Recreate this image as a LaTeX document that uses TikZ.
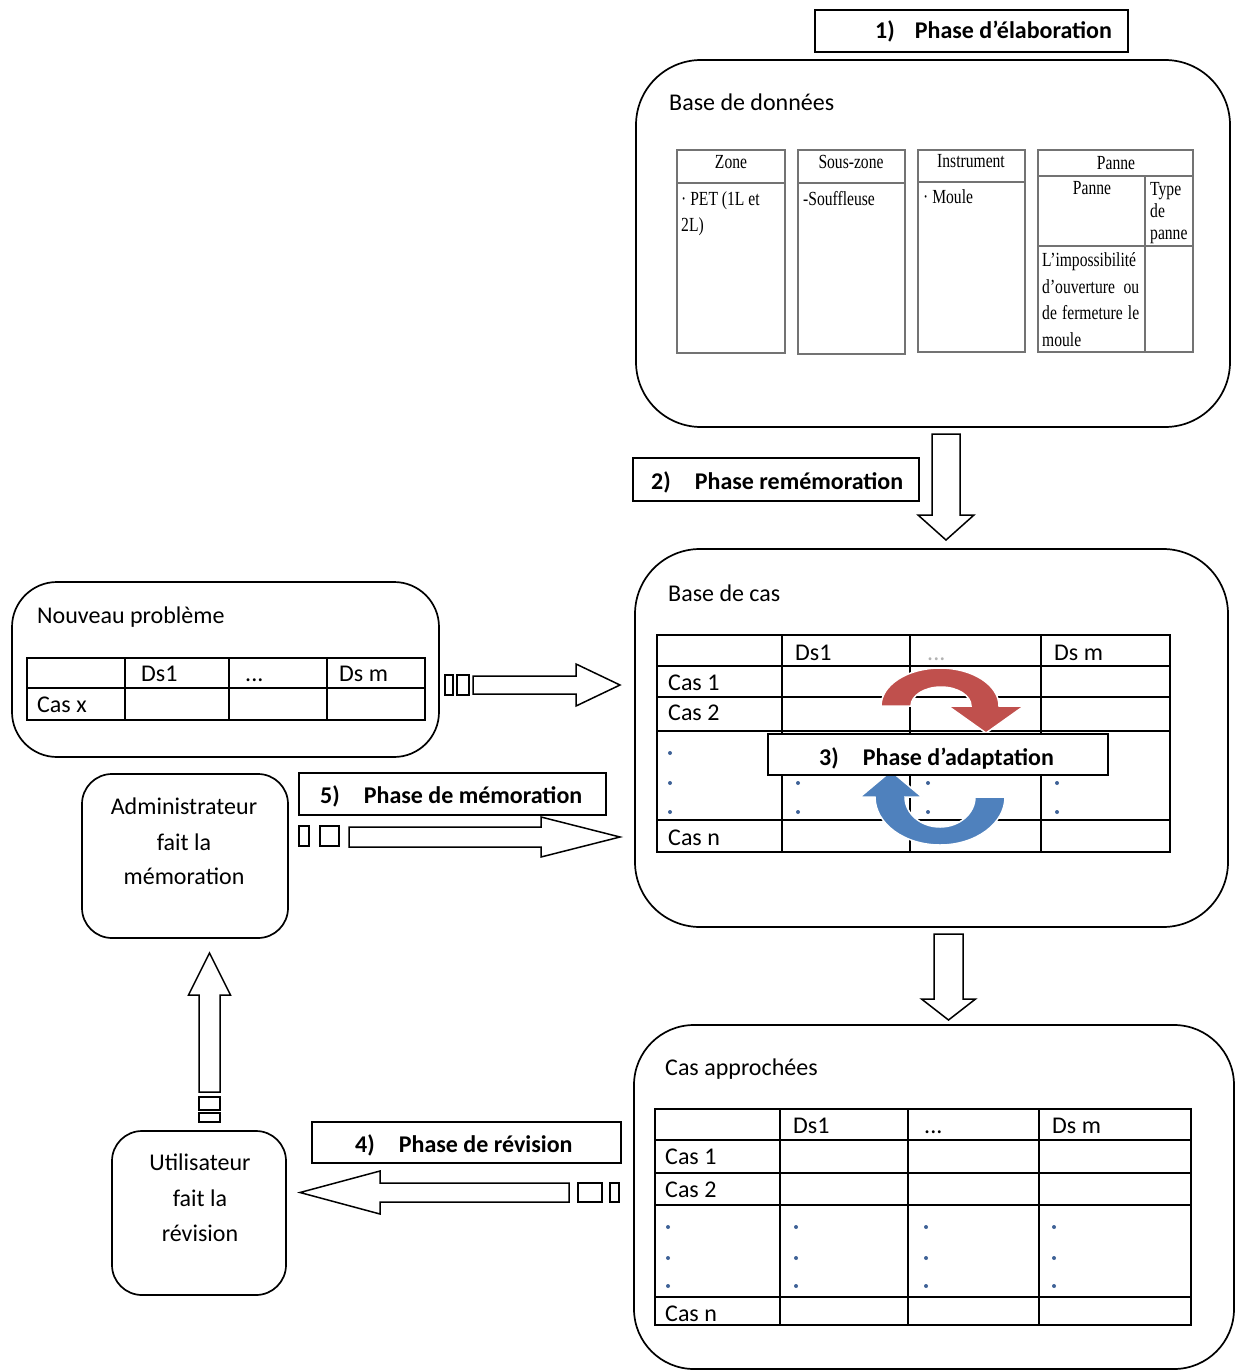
\documentclass[tikz,border=0pt]{standalone}
\usepackage{fontspec}
\setmainfont{Carlito}
\newfontfamily\tnr[FakeStretch=0.78]{Liberation Serif}
\usetikzlibrary{calc}
\definecolor{arrred}{HTML}{C0504D}
\definecolor{arrblue}{HTML}{4F81BD}
\definecolor{dotblue}{HTML}{3F6297}
\definecolor{thinline}{gray}{0.45}
\tikzset{
 rbox/.style={draw, line width=1.7pt, rounded corners=#1, outer sep=0pt, inner sep=0pt, anchor=north west},
 phasebox/.style={draw, line width=1.5pt, fill=white, outer sep=0pt, inner sep=0pt, anchor=north west},
 blockarrow/.style={draw, line width=1.5pt, fill=white, line join=miter},
 tailbox/.style={draw, line width=1.5pt, fill=white},
 gridline/.style={line width=2pt},
 sgrid/.style={line width=1.3pt, draw=thinline},
 txt/.style={font=\fontsize{24}{29}\selectfont, inner sep=0pt, anchor=base west},
 btxt/.style={font=\fontsize{24}{29}\selectfont\bfseries, inner sep=0pt, anchor=base west},
 ctxt/.style={font=\fontsize{24}{29}\selectfont, inner sep=0pt, anchor=base},
 stxt/.style={font=\tnr\fontsize{20}{24}\selectfont, inner sep=0pt, anchor=base west},
 sctxt/.style={font=\tnr\fontsize{20}{24}\selectfont, inner sep=0pt, anchor=base},
 dotmark/.style={fill=dotblue},
 curvearrow/.style={draw=white, line width=1.5pt}
}
% horizontal block arrow: tail coord, tip coord, shaft half width, head half width, head length
\newcommand\hblock[5]{\draw[blockarrow] let \p1=(#1), \p2=(#2), \n1={sign(\x2-\x1)*#5} in
 ({\x1},{\y1+#3}) -- ({\x2-(\n1)},{\y1+#3}) -- ({\x2-(\n1)},{\y1+#4}) -- ({\x2},{\y1}) -- ({\x2-(\n1)},{\y1-#4}) -- ({\x2-(\n1)},{\y1-#3}) -- ({\x1},{\y1-#3}) -- cycle;}
\newcommand\vblock[5]{\draw[blockarrow] let \p1=(#1), \p2=(#2), \n1={sign(\y2-\y1)*#5} in
 ({\x1+#3},{\y1}) -- ({\x1+#3},{\y2-(\n1)}) -- ({\x1+#4},{\y2-(\n1)}) -- ({\x1},{\y2}) -- ({\x1-#4},{\y2-(\n1)}) -- ({\x1-#3},{\y2-(\n1)}) -- ({\x1-#3},{\y1}) -- cycle;}
\begin{document}
\begin{tikzpicture}[x=1pt,y=-1pt]
\useasboundingbox (0,0) rectangle (1236,1370);

% ---------- main rounded boxes ----------
\node[rbox=65pt, minimum width=594pt, minimum height=367pt] (bdd) at (636,60) {};
\node[rbox=65pt, minimum width=593pt, minimum height=378pt] (bdc) at (635,549) {};
\node[rbox=45pt, minimum width=427pt, minimum height=175pt] (np) at (12,582) {};
\node[rbox=30pt, minimum width=206pt, minimum height=164pt] (adm) at (82,774) {};
\node[rbox=30pt, minimum width=174pt, minimum height=164pt] (usr) at (112,1131) {};
\node[rbox=60pt, minimum width=600pt, minimum height=344pt] (ca) at (634,1025) {};

% ---------- titles ----------
\node[txt] (tbdd) at (669,111) {Base de données};
\node[txt] (tbdc) at (668,601) {Base de cas};
\node[txt] (tnp) at (37,623) {Nouveau problème};
\node[txt] (tca) at (665,1075) {Cas approchées};
\node[ctxt] (adm1) at (184,814) {Administrateur};
\node[ctxt] (adm2) at (184,850) {fait la};
\node[ctxt] (adm3) at (184,884) {mémoration};
\node[ctxt] (usr1) at (200,1170) {Utilisateur};
\node[ctxt] (usr2) at (200,1206) {fait la};
\node[ctxt] (usr3) at (200,1241) {révision};

% ---------- small tables of the database ----------
\draw[sgrid] (677,150) rectangle (785,353) (677,183) -- (785,183);
\draw[sgrid] (798,150) rectangle (905,354) (798,183) -- (905,183);
\draw[sgrid] (918,150) rectangle (1025,352) (918,182) -- (1025,182);
\draw[sgrid] (1038,150) rectangle (1193,352) (1038,176) -- (1193,176) (1038,246) -- (1193,246) (1145,176) -- (1145,352);
\node[sctxt] (hz) at (731,168) {Zone};
\node[sctxt] (hsz) at (851,168) {Sous-zone};
\node[sctxt] (hin) at (971,167) {Instrument};
\node[sctxt] (hpa) at (1116,169) {Panne};
\node[sctxt] (hpa2) at (1092,194) {Panne};
\node[stxt] (ty1) at (1150,195) {Type};
\node[stxt] (ty2) at (1150,217) {de};
\node[stxt] (ty3) at (1150,239) {panne};
\node[stxt] (z1) at (681,205) {· PET (1L et};
\node[stxt] (z2) at (681,231) {2L)};
\node[stxt] (s1) at (803,205) {-Souffleuse};
\node[stxt] (i1) at (923,203) {· Moule};
\node[stxt] (pa1) at (1042,266) {L’impossibilité};
\node[stxt] (pa2) at (1042,293) {\makebox[97pt][s]{d’ouverture ou}};
\node[stxt] (pa3) at (1042,319) {\makebox[97pt][s]{de fermeture le}};
\node[stxt] (pa4) at (1042,346) {moule};

% ---------- table: nouveau probleme ----------
\draw[gridline] (27,658) rectangle (424.5,720) (27,688) -- (424.5,688)
  (124.5,658) -- (124.5,720) (228.5,658) -- (228.5,720) (326.5,658) -- (326.5,720);
\node[txt] (npd1) at (141,681) {Ds1};
\node[txt] (npd2) at (245,681) {...};
\node[txt] (npd3) at (339,681) {Ds m};
\node[txt] (npc) at (37,712) {Cas x};

% ---------- table: base de cas ----------
\draw[gridline] (657,635) rectangle (1170,852)
  (657,666) -- (1170,666) (657,697) -- (1170,697) (657,731) -- (1170,731) (657,820) -- (1170,820)
  (782,635) -- (782,852) (910,635) -- (910,852) (1041,635) -- (1041,852);
\node[txt] (bd1) at (795,660) {Ds1};
\node[txt, text=gray!60] (bd2) at (927,660) {...};
\node[txt] (bd3) at (1054,660) {Ds m};
\node[txt] (bc1) at (668,690) {Cas 1};
\node[txt] (bc2) at (668,720) {Cas 2};
\node[txt] (bcn) at (668,845) {Cas n};
\foreach \yy in {753,783,812} \fill[dotmark] (670,\yy) circle[radius=2pt];
\foreach \xx in {798,928,1057} \foreach \yy in {753,783,812} \fill[dotmark] (\xx,\yy) circle[radius=2pt];

% ---------- table: cas approchees ----------
\draw[gridline] (655,1109) rectangle (1190.5,1325)
  (655,1140) -- (1190.5,1140) (655,1173) -- (1190.5,1173) (655,1205) -- (1190.5,1205) (655,1297) -- (1190.5,1297)
  (780,1109) -- (780,1325) (908,1109) -- (908,1325) (1038.5,1109) -- (1038.5,1325);
\node[txt] (cd1) at (793,1133) {Ds1};
\node[txt] (cd2) at (924,1133) {...};
\node[txt] (cd3) at (1052,1133) {Ds m};
\node[txt] (cc1) at (665,1164) {Cas 1};
\node[txt] (cc2) at (665,1197) {Cas 2};
\node[txt] (ccn) at (665,1321) {Cas n};
\foreach \xx in {668,796,926,1054} \foreach \yy in {1227,1258,1286} \fill[dotmark] (\xx,\yy) circle[radius=2pt];

% ---------- circular adaptation arrows ----------
\filldraw[curvearrow, fill=arrred] (881,706) arc[start angle=180, end angle=0, x radius=59pt, y radius=38pt]
  -- (1024,706) -- (986,733) -- (948,706) -- (971,706)
  arc[start angle=0, end angle=180, x radius=30pt, y radius=19pt] -- cycle;
\filldraw[curvearrow, fill=arrblue] (1005,797) arc[start angle=0, end angle=-180, x radius=65pt, y radius=48pt]
  -- (860,797) -- (891,771) -- (922,797) -- (905,797)
  arc[start angle=-180, end angle=0, x radius=35pt, y radius=30pt] -- cycle;

% ---------- phase labels ----------
\node[phasebox, minimum width=313pt, minimum height=42pt] (p1) at (815,10) {};
\node[phasebox, minimum width=286pt, minimum height=43pt] (p2) at (633,458) {};
\node[phasebox, minimum width=340pt, minimum height=41pt] (p3) at (768,734) {};
\node[phasebox, minimum width=309pt, minimum height=41pt] (p4) at (312,1122) {};
\node[phasebox, minimum width=307pt, minimum height=42pt] (p5) at (299,773) {};
\node[btxt] (p1t) at (875,39) {1)\hspace{20pt}Phase d’élaboration};
\node[btxt] (p2t) at (651,489) {2)\hspace{24pt}Phase remémoration};
\node[btxt] (p3t) at (819,765) {3)\hspace{24pt}Phase d’adaptation};
\node[btxt] (p4t) at (355,1152) {4)\hspace{24pt}Phase de révision};
\node[btxt] (p5t) at (320,803) {5)\hspace{24pt}Phase de mémoration};

% ---------- block arrows ----------
\coordinate (aS) at (946,434);   \coordinate (aT) at (946,540);
\coordinate (bS) at (948.5,934); \coordinate (bT) at (948.5,1020);
\coordinate (cS) at (473,685);   \coordinate (cT) at (620,685);
\coordinate (dS) at (349,837);   \coordinate (dT) at (620,837);
\coordinate (eS) at (569,1192.5);\coordinate (eT) at (300,1192.5);
\coordinate (fS) at (209.5,1092);\coordinate (fT) at (209.5,953);
\vblock{aS}{aT}{14pt}{28pt}{25pt}
\vblock{bS}{bT}{14.5pt}{27pt}{21pt}
\hblock{cS}{cT}{9pt}{21pt}{44pt}
\hblock{dS}{dT}{10pt}{20pt}{79pt}
\hblock{eS}{eT}{9.5pt}{21.5pt}{80pt}
\vblock{fS}{fT}{10.5pt}{21pt}{42pt}
\draw[tailbox] (445,675) rectangle (453,695) (457,675) rectangle (469,695);
\draw[tailbox] (299,826) rectangle (309,846) (320,826) rectangle (339,846);
\draw[tailbox] (578,1183) rectangle (602,1202) (610,1183) rectangle (619,1202);
\draw[tailbox] (199,1097) rectangle (220,1110) (199,1113) rectangle (220,1122);
\end{tikzpicture}
\end{document}
